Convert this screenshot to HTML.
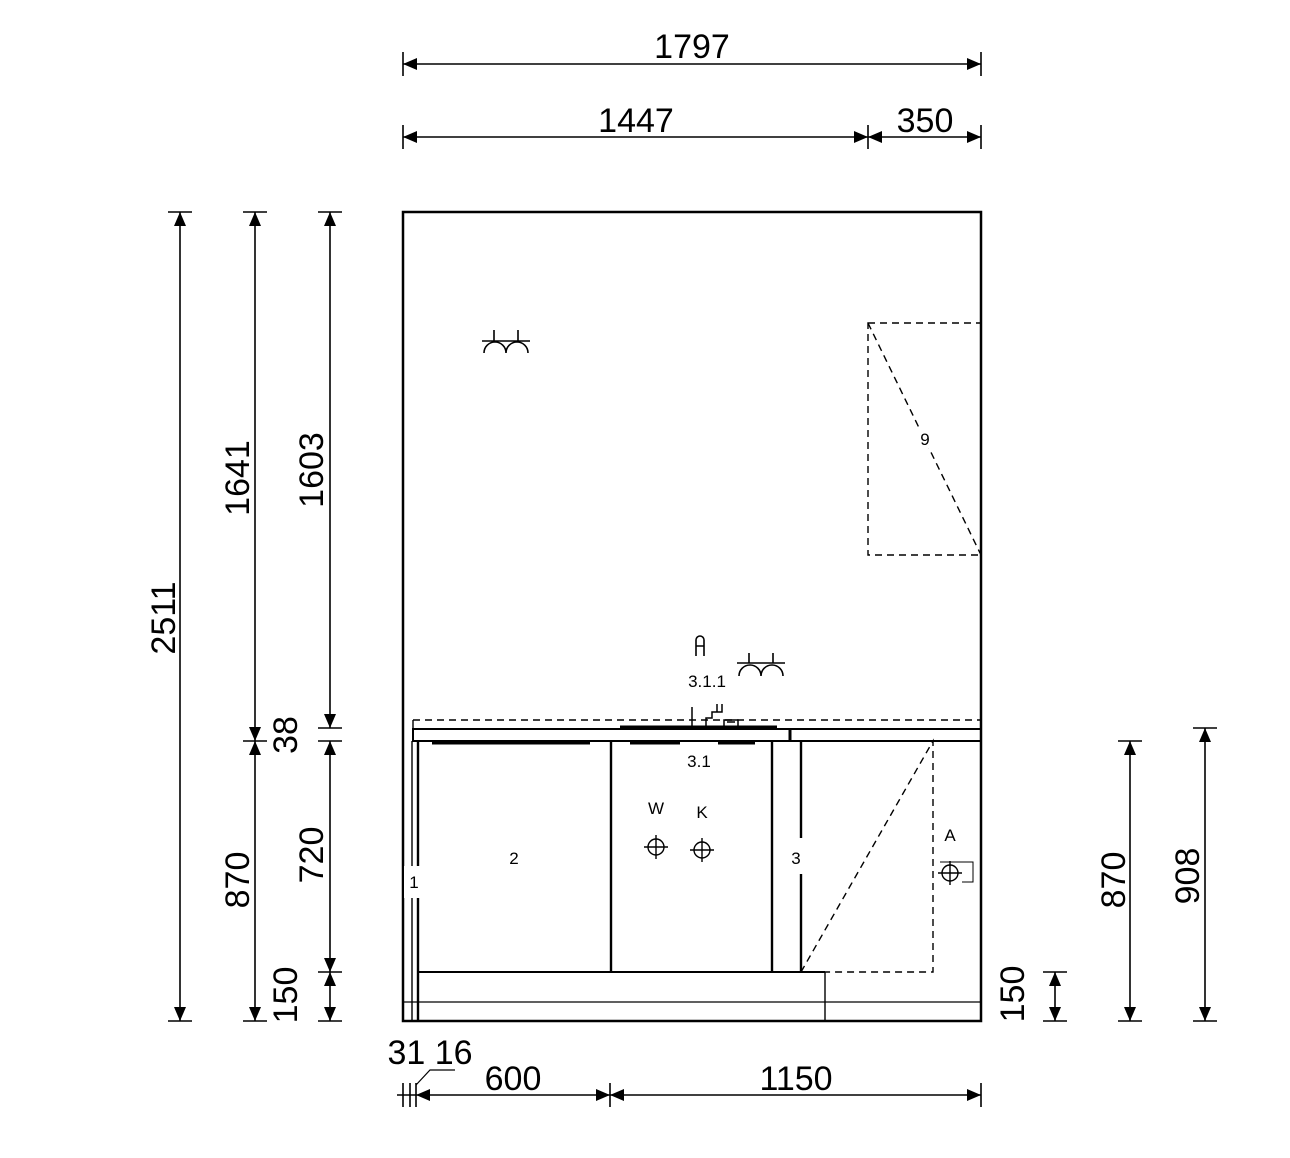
<!DOCTYPE html>
<html><head><meta charset="utf-8"><style>
html,body{margin:0;padding:0;background:#fff;}
svg{display:block;}
text{font-family:"Liberation Sans",Arial,sans-serif;fill:#000;}
</style></head><body>
<svg width="1290" height="1158" viewBox="0 0 1290 1158" xmlns="http://www.w3.org/2000/svg">
<defs>
<marker id="a" viewBox="0 0 14 12" refX="14" refY="6" markerWidth="14" markerHeight="12" markerUnits="userSpaceOnUse" orient="auto-start-reverse"><path d="M0,0 L14,6 L0,12 z" fill="#000"/></marker>
</defs>
<g stroke="#000" fill="none" stroke-width="1.6">
<line x1="403" y1="64" x2="981" y2="64" marker-start="url(#a)" marker-end="url(#a)"/>
<line x1="403" y1="52" x2="403" y2="76"/><line x1="981" y1="52" x2="981" y2="76"/>
<line x1="403" y1="137" x2="868" y2="137" marker-start="url(#a)" marker-end="url(#a)"/>
<line x1="868" y1="137" x2="981" y2="137" marker-start="url(#a)" marker-end="url(#a)"/>
<line x1="403" y1="125" x2="403" y2="149"/><line x1="868" y1="125" x2="868" y2="149"/><line x1="981" y1="125" x2="981" y2="149"/>
<line x1="180" y1="212" x2="180" y2="1021" marker-start="url(#a)" marker-end="url(#a)"/>
<line x1="168" y1="212" x2="192" y2="212"/><line x1="168" y1="1021" x2="192" y2="1021"/>
<line x1="255" y1="212" x2="255" y2="741" marker-start="url(#a)" marker-end="url(#a)"/>
<line x1="255" y1="741" x2="255" y2="1021" marker-start="url(#a)" marker-end="url(#a)"/>
<line x1="243" y1="212" x2="267" y2="212"/><line x1="243" y1="741" x2="267" y2="741"/><line x1="243" y1="1021" x2="267" y2="1021"/>
<line x1="330" y1="212" x2="330" y2="728" marker-start="url(#a)" marker-end="url(#a)"/>
<line x1="330" y1="741" x2="330" y2="972" marker-start="url(#a)" marker-end="url(#a)"/>
<line x1="330" y1="972" x2="330" y2="1021" marker-start="url(#a)" marker-end="url(#a)"/>
<line x1="318" y1="212" x2="342" y2="212"/><line x1="318" y1="728" x2="342" y2="728"/><line x1="318" y1="741" x2="342" y2="741"/><line x1="318" y1="972" x2="342" y2="972"/><line x1="318" y1="1021" x2="342" y2="1021"/>
<line x1="1055" y1="972" x2="1055" y2="1021" marker-start="url(#a)" marker-end="url(#a)"/>
<line x1="1043" y1="972" x2="1067" y2="972"/><line x1="1043" y1="1021" x2="1067" y2="1021"/>
<line x1="1130" y1="741" x2="1130" y2="1021" marker-start="url(#a)" marker-end="url(#a)"/>
<line x1="1118" y1="741" x2="1142" y2="741"/><line x1="1118" y1="1021" x2="1142" y2="1021"/>
<line x1="1205" y1="728" x2="1205" y2="1021" marker-start="url(#a)" marker-end="url(#a)"/>
<line x1="1193" y1="728" x2="1217" y2="728"/><line x1="1193" y1="1021" x2="1217" y2="1021"/>
<line x1="397" y1="1095" x2="416" y2="1095"/>
<line x1="416" y1="1095" x2="610" y2="1095" marker-start="url(#a)" marker-end="url(#a)"/>
<line x1="610" y1="1095" x2="981" y2="1095" marker-start="url(#a)" marker-end="url(#a)"/>
<line x1="403" y1="1083" x2="403" y2="1107"/><line x1="410" y1="1083" x2="410" y2="1107"/><line x1="416" y1="1083" x2="416" y2="1107"/><line x1="610" y1="1083" x2="610" y2="1107"/><line x1="981" y1="1083" x2="981" y2="1107"/>
<polyline points="416,1085 430,1070 455,1070" stroke-width="1.2"/>
</g>
<g stroke="#000" fill="none">
<rect x="403" y="212" width="578" height="809" stroke-width="2.5"/>
<rect x="868" y="323" width="113" height="232" stroke-width="1.4" stroke-dasharray="7,5"/>
<line x1="868" y1="323" x2="981" y2="555" stroke-width="1.4" stroke-dasharray="7,5"/>
<line x1="413" y1="720" x2="981" y2="720" stroke-width="1.4" stroke-dasharray="7,5"/>
<line x1="413" y1="720" x2="413" y2="729" stroke-width="1.4"/>
<rect x="413" y="729" width="568" height="12" stroke-width="2"/>
<line x1="790" y1="729" x2="790" y2="741" stroke-width="3"/>
<line x1="620" y1="727" x2="777" y2="727" stroke-width="3"/>
<line x1="432" y1="743" x2="590" y2="743" stroke-width="3"/>
<line x1="630" y1="743" x2="680" y2="743" stroke-width="3"/>
<line x1="718" y1="743" x2="755" y2="743" stroke-width="3"/>
<path d="M692 707 V728 M706 728 V718 H712 V712 H722 V704 M717 712 V704 M724 728 V720 H738 V728 M727 722 H735" stroke-width="1.5"/>
<line x1="412" y1="741" x2="412" y2="1021" stroke-width="1.4"/>
<line x1="418" y1="741" x2="418" y2="1021" stroke-width="2.4"/>
<line x1="611" y1="741" x2="611" y2="972" stroke-width="2.4"/>
<line x1="772" y1="741" x2="772" y2="972" stroke-width="2.4"/>
<line x1="801" y1="741" x2="801" y2="838" stroke-width="2.4"/>
<line x1="801" y1="874" x2="801" y2="972" stroke-width="2.4"/>
<line x1="418" y1="972" x2="825" y2="972" stroke-width="2"/>
<line x1="825" y1="972" x2="825" y2="1021" stroke-width="1.4"/>
<line x1="403" y1="1002" x2="981" y2="1002" stroke-width="1.2"/>
<path d="M801 972 L933 741 V972 H825" stroke-width="1.4" stroke-dasharray="7,5"/>
<circle cx="656" cy="847" r="8" stroke-width="1.4"/><path d="M644 847 H668 M656 835 V859" stroke-width="1.4"/>
<circle cx="702" cy="850" r="8" stroke-width="1.4"/><path d="M690 850 H714 M702 838 V862" stroke-width="1.4"/>
<circle cx="950" cy="873" r="8" stroke-width="1.4"/><path d="M938 873 H962 M950 861 V885" stroke-width="1.4"/>
<path d="M940 862 H973 V882 H962" stroke-width="1"/>
<g stroke-width="1.6">
<path d="M482 341 H530 M494 330 V341 M518 330 V341 M484 353 A11 11 0 0 1 506 353 A11 11 0 0 1 528 353"/>
<path d="M737 663 H785 M749 653 V663 M773 653 V663 M739 676 A11 11 0 0 1 761 676 A11 11 0 0 1 783 676"/>
<path d="M696 656 V640 A4 4 0 0 1 704 640 V656 M696 646 H704"/>
</g>
</g>
<rect x="404" y="866" width="16" height="32" fill="#fff"/>
<rect x="917" y="428" width="16" height="20" fill="#fff"/>
<g font-size="17" text-anchor="middle">
<text x="925" y="445">9</text>
<text x="707" y="687">3.1.1</text>
<text x="699" y="767">3.1</text>
<text x="514" y="864">2</text>
<text x="796" y="864">3</text>
<text x="414" y="888">1</text>
<text x="656" y="814">W</text>
<text x="702" y="818">K</text>
<text x="950" y="841">A</text>
</g>
<g font-size="34" text-anchor="middle">
<text x="692" y="58">1797</text>
<text x="636" y="132">1447</text>
<text x="925" y="132">350</text>
<text x="513" y="1090">600</text>
<text x="796" y="1090">1150</text>
<text x="430" y="1064">31 16</text>
<text transform="translate(175,618) rotate(-90)">2511</text>
<text transform="translate(249,478) rotate(-90)">1641</text>
<text transform="translate(249,880) rotate(-90)">870</text>
<text transform="translate(323,470) rotate(-90)">1603</text>
<text transform="translate(323,855) rotate(-90)">720</text>
<text transform="translate(297,735) rotate(-90)">38</text>
<text transform="translate(297,995) rotate(-90)">150</text>
<text transform="translate(1024,994) rotate(-90)">150</text>
<text transform="translate(1125,880) rotate(-90)">870</text>
<text transform="translate(1199,876) rotate(-90)">908</text>
</g>
</svg>
</body></html>
